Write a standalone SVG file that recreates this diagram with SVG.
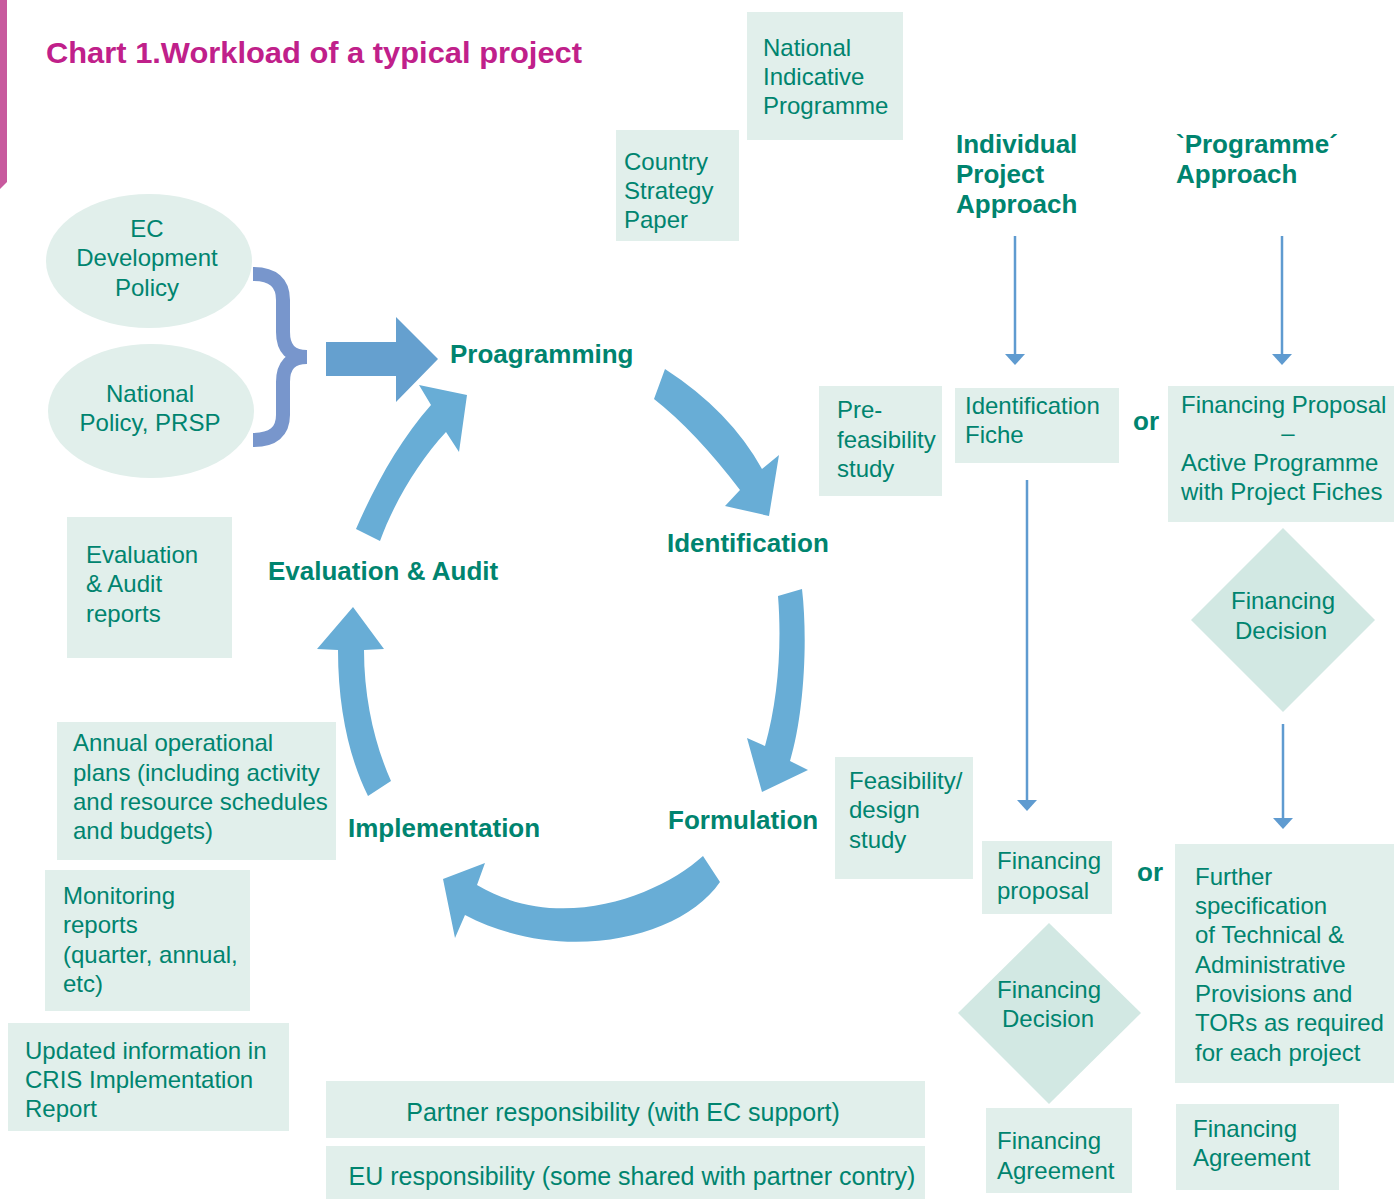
<svg xmlns="http://www.w3.org/2000/svg" width="1395" height="1199" viewBox="0 0 1395 1199">
<style>
.box{fill:#E1EFEB}
.dia{fill:#D2E8E3}
.t{font-family:"Liberation Sans",Arial,sans-serif;font-size:24px;fill:#00846F}
.l{font-size:25px}
.b{font-family:"Liberation Sans",Arial,sans-serif;font-size:26px;font-weight:bold;fill:#00846F}
.h{font-family:"Liberation Sans",Arial,sans-serif;font-size:26px;font-weight:bold;fill:#00846F}
.c{text-anchor:middle}
.cyc{fill:#68ADD6}
.ln{stroke:#5F9BD0;stroke-width:2.5;fill:none;marker-end:url(#ah)}
</style>
<defs>
<marker id="ah" viewBox="0 0 11 20" markerWidth="11" markerHeight="20" refX="8" refY="10" orient="auto" markerUnits="userSpaceOnUse">
<path d="M0,0 L11,10 L0,20 Z" fill="#5F9BD0"/>
</marker>
</defs>
<rect width="1395" height="1199" fill="#FFFFFF"/>
<polygon points="0,0 7,0 7,182 0,189" fill="#C85A9E"/>
<text x="46" y="63" font-family="Liberation Sans, Arial, sans-serif" font-size="30" font-weight="bold" fill="#C0208A" textLength="536" lengthAdjust="spacingAndGlyphs">Chart 1.Workload of a typical project</text>

<g id="ec-policy">
<ellipse cx="149" cy="261" rx="103" ry="67" class="box"/>
<text class="t c" x="147" y="237">EC</text>
<text class="t c" x="147" y="266">Development</text>
<text class="t c" x="147" y="296">Policy</text>
</g>
<g id="national-policy">
<ellipse cx="151" cy="411" rx="103" ry="67" class="box"/>
<text class="t c" x="150" y="402">National</text>
<text class="t c" x="150" y="431">Policy, PRSP</text>
</g>
<g id="brace">
<path d="M253,274 Q283,274 283,300 L283,332 Q283,357 307,357 Q283,357 283,382 L283,415 Q283,440 253,440" fill="none" stroke="#7896CC" stroke-width="14"/>
</g>
<g id="input-arrow">
<polygon points="326,342 396,342 396,317 438,359 396,402 396,376 326,376" fill="#65A0CF"/>
</g>

<g id="cycle">
<path class="cyc" d="M665,369 Q730,411 762,469 L779,455 L769,516 L725,506 L740,490 Q695,431 654,399 Z"/>
<path class="cyc" d="M802,589 C808,640 804,715 790,761 L808,770 L762,792 L747,738 L765,746 C778,700 782,646 778,596 Z"/>
<path class="cyc" d="M703,856 C660,895 560,935 477,885 L485,863 L443,879 L455,938 L465,915 C560,965 680,940 720,882 Z"/>
<path class="cyc" d="M368,796 C350,760 338,710 338,650 L317,649 L353,607 L384,649 L364,650 C364,700 375,745 391,781 Z"/>
<path class="cyc" d="M356,529 C375,485 400,440 431,405 L419,385 L467,395 L459,452 L446,432 C420,460 395,500 380,541 Z"/>
</g>
<g id="programming"><text class="b" x="450" y="363">Proagramming</text></g>
<g id="identification"><text class="b" x="667" y="552">Identification</text></g>
<g id="formulation"><text class="b" x="668" y="829">Formulation</text></g>
<g id="implementation"><text class="b" x="348" y="837">Implementation</text></g>
<g id="evaluation"><text class="b" x="268" y="580">Evaluation &amp; Audit</text></g>

<g id="nip">
<rect class="box" x="747" y="12" width="156" height="128"/>
<text class="t" x="763" y="56">National</text>
<text class="t" x="763" y="85">Indicative</text>
<text class="t" x="763" y="114">Programme</text>
</g>
<g id="csp">
<rect class="box" x="616" y="130" width="123" height="111"/>
<text class="t" x="624" y="170">Country</text>
<text class="t" x="624" y="199">Strategy</text>
<text class="t" x="624" y="228">Paper</text>
</g>
<g id="individual-approach">
<text class="h" x="956" y="153">Individual</text>
<text class="h" x="956" y="183">Project</text>
<text class="h" x="956" y="213">Approach</text>
</g>
<g id="programme-approach">
<text class="h" x="1176" y="153">`Programme´</text>
<text class="h" x="1176" y="183">Approach</text>
</g>
<g id="prefeasibility">
<rect class="box" x="819" y="386" width="123" height="110"/>
<text class="t" x="837" y="418">Pre-</text>
<text class="t" x="837" y="448">feasibility</text>
<text class="t" x="837" y="477">study</text>
</g>
<g id="id-fiche">
<rect class="box" x="955" y="388" width="164" height="75"/>
<text class="t" x="965" y="414">Identification</text>
<text class="t" x="965" y="443">Fiche</text>
</g>
<g id="or1"><text class="h" x="1133" y="430">or</text></g>
<g id="fin-proposal-prog">
<rect class="box" x="1168" y="386" width="226" height="136"/>
<text class="t" x="1181" y="413">Financing Proposal</text>
<text class="t c" x="1288" y="441">–</text>
<text class="t" x="1181" y="471">Active Programme</text>
<text class="t" x="1181" y="500">with Project Fiches</text>
</g>
<g id="fin-decision-prog">
<polygon class="dia" points="1283,528 1375,620 1283,712 1191,620"/>
<text class="t c" x="1283" y="609">Financing</text>
<text class="t c" x="1281" y="639">Decision</text>
</g>
<g id="feasibility">
<rect class="box" x="835" y="757" width="138" height="122"/>
<text class="t" x="849" y="789">Feasibility/</text>
<text class="t" x="849" y="818">design</text>
<text class="t" x="849" y="848">study</text>
</g>
<g id="fin-proposal">
<rect class="box" x="982" y="841" width="130" height="73"/>
<text class="t" x="997" y="869">Financing</text>
<text class="t" x="997" y="899">proposal</text>
</g>
<g id="or2"><text class="h" x="1137" y="881">or</text></g>
<g id="further-spec">
<rect class="box" x="1175" y="844" width="219" height="239"/>
<text class="t" x="1195" y="885">Further</text>
<text class="t" x="1195" y="914">specification</text>
<text class="t" x="1195" y="943">of Technical &amp;</text>
<text class="t" x="1195" y="973">Administrative</text>
<text class="t" x="1195" y="1002">Provisions and</text>
<text class="t" x="1195" y="1031">TORs as required</text>
<text class="t" x="1195" y="1061">for each project</text>
</g>
<g id="fin-decision">
<polygon class="dia" points="1049,923 1141,1013 1049,1104 958,1013"/>
<text class="t c" x="1049" y="998">Financing</text>
<text class="t c" x="1048" y="1027">Decision</text>
</g>
<g id="fin-agreement-1">
<rect class="box" x="986" y="1108" width="146" height="85"/>
<text class="t" x="997" y="1149">Financing</text>
<text class="t" x="997" y="1179">Agreement</text>
</g>
<g id="fin-agreement-2">
<rect class="box" x="1176" y="1104" width="163" height="86"/>
<text class="t" x="1193" y="1137">Financing</text>
<text class="t" x="1193" y="1166">Agreement</text>
</g>
<g id="partner">
<rect class="box" x="326" y="1081" width="599" height="57"/>
<text class="t l c" x="623" y="1121">Partner responsibility (with EC support)</text>
</g>
<g id="eu">
<rect class="box" x="326" y="1146" width="599" height="53"/>
<text class="t l c" x="632" y="1185">EU responsibility (some shared with partner contry)</text>
</g>
<g id="eval-reports">
<rect class="box" x="67" y="517" width="165" height="141"/>
<text class="t" x="86" y="563">Evaluation</text>
<text class="t" x="86" y="592">&amp; Audit</text>
<text class="t" x="86" y="622">reports</text>
</g>
<g id="annual-plans">
<rect class="box" x="57" y="722" width="279" height="138"/>
<text class="t" x="73" y="751">Annual operational</text>
<text class="t" x="73" y="781">plans (including activity</text>
<text class="t" x="73" y="810">and resource schedules</text>
<text class="t" x="73" y="839">and budgets)</text>
</g>
<g id="monitoring">
<rect class="box" x="45" y="870" width="205" height="141"/>
<text class="t" x="63" y="904">Monitoring</text>
<text class="t" x="63" y="933">reports</text>
<text class="t" x="63" y="963">(quarter, annual,</text>
<text class="t" x="63" y="992">etc)</text>
</g>
<g id="cris">
<rect class="box" x="8" y="1023" width="281" height="108"/>
<text class="t" x="25" y="1059">Updated information in</text>
<text class="t" x="25" y="1088">CRIS Implementation</text>
<text class="t" x="25" y="1117">Report</text>
</g>

<g id="connectors">
<path class="ln" d="M1015,236 L1015,362"/>
<path class="ln" d="M1282,236 L1282,362"/>
<path class="ln" d="M1027,480 L1027,808"/>
<path class="ln" d="M1283,724 L1283,826"/>
</g>
</svg>
